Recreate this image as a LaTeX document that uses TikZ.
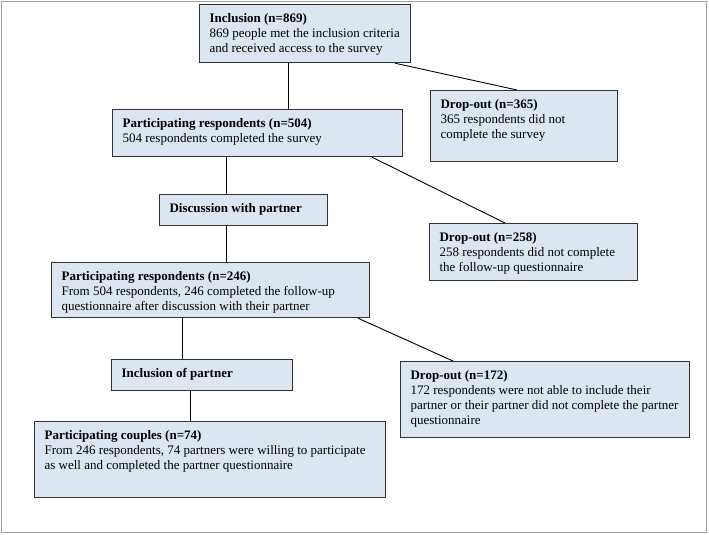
\documentclass[tikz,border=0pt]{standalone}
\usepackage{fontspec}
\setmainfont{Liberation Serif}
\usetikzlibrary{calc}
\definecolor{boxfill}{HTML}{DCE6F1}
\definecolor{boxline}{HTML}{333333}
\definecolor{framegray}{HTML}{A0A0A0}
\newcommand{\flowbox}[3]{\parbox[t][\dimexpr#2pt-15pt\relax][t]{\dimexpr#1pt-20pt\relax}{\begin{tabular}[t]{@{}l@{}}#3\end{tabular}}}
\tikzset{
  flow/.style={draw=boxline, fill=boxfill, line width=1.2pt, anchor=north west,
    inner xsep=10pt, inner ysep=7.5pt, font=\fontsize{13}{15}\selectfont},
  link/.style={draw=black, line width=0.9pt}
}
\begin{document}
\begin{tikzpicture}[x=1pt,y=-1pt]
\useasboundingbox (0,0) rectangle (709,535);
\draw[framegray, line width=1.5pt] (1.5,1.5) rectangle (706.5,532.5);

\node[flow] (incl) at (199,4) {\flowbox{211}{58}{\textbf{Inclusion (n=869)}\\869 people met the inclusion criteria\\and received access to the survey}};
\node[flow] (d365) at (430,90) {\flowbox{187}{71}{\textbf{Drop-out (n=365)}\\365 respondents did not\\complete the survey}};
\node[flow] (p504) at (112,109) {\flowbox{290}{47}{\textbf{Participating respondents (n=504)}\\504 respondents completed the survey}};
\node[flow] (disc) at (159,194) {\flowbox{168}{31}{\textbf{Discussion with partner}}};
\node[flow] (d258) at (429,223) {\flowbox{208}{57}{\textbf{Drop-out (n=258)}\\258 respondents did not complete\\the follow-up questionnaire}};
\node[flow] (p246) at (51,262) {\flowbox{318}{55}{\textbf{Participating respondents (n=246)}\\From 504 respondents, 246 completed the follow-up\\questionnaire after discussion with their partner}};
\node[flow] (d172) at (400,361) {\flowbox{289}{76}{\textbf{Drop-out (n=172)}\\172 respondents were not able to include their\\partner or their partner did not complete the partner\\questionnaire}};
\node[flow] (incp) at (111,359) {\flowbox{181}{31}{\textbf{Inclusion of partner}}};
\node[flow] (coup) at (34,421) {\flowbox{351}{76}{\textbf{Participating couples (n=74)}\\From 246 respondents, 74 partners were willing to participate\\as well and completed the partner questionnaire}};

\draw[link] ($(incl.south west)+(89,0)$) -- ($(p504.north west)+(176,0)$);
\draw[link] ($(incl.south west)+(196,0)$) -- ($(d365.north west)+(87,0)$);
\draw[link] ($(p504.south west)+(114,0)$) -- ($(disc.north west)+(67,0)$);
\draw[link] ($(p504.south west)+(260,0)$) -- ($(d258.north west)+(76,0)$);
\draw[link] ($(disc.south west)+(67,0)$) -- ($(p246.north west)+(175,0)$);
\draw[link] ($(p246.south west)+(131,0)$) -- ($(incp.north west)+(71,0)$);
\draw[link] ($(p246.south west)+(307,0)$) -- ($(d172.north west)+(53,0)$);
\draw[link] ($(incp.south west)+(79,0)$) -- ($(coup.north west)+(156,0)$);
\end{tikzpicture}
\end{document}
